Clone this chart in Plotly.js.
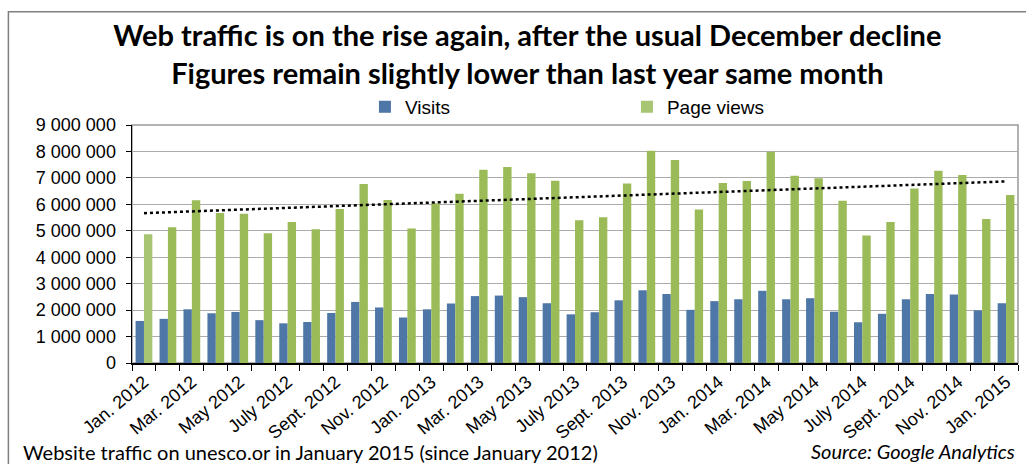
<!DOCTYPE html>
<html>
<head>
<meta charset="utf-8">
<script src="https://cdn.plot.ly/plotly-3.0.1.min.js"></script>
<style>
  html, body { margin: 0; padding: 0; background: #ffffff; }
  #chart { width: 1026px; height: 464px; }
</style>
</head>
<body>
<div id="chart"></div>
<script>
// ---- Data ----
const categories = [
  'Jan. 2012','Feb. 2012','Mar. 2012','Apr. 2012','May 2012','June 2012',
  'July 2012','Aug. 2012','Sept. 2012','Oct. 2012','Nov. 2012','Dec. 2012',
  'Jan. 2013','Feb. 2013','Mar. 2013','Apr. 2013','May 2013','June 2013',
  'July 2013','Aug. 2013','Sept. 2013','Oct. 2013','Nov. 2013','Dec. 2013',
  'Jan. 2014','Feb. 2014','Mar. 2014','Apr. 2014','May 2014','June 2014',
  'July 2014','Aug. 2014','Sept. 2014','Oct. 2014','Nov. 2014','Dec. 2014',
  'Jan. 2015'
];

const visits = [
  1590000, 1670000, 2030000, 1880000, 1930000, 1620000,
  1500000, 1550000, 1890000, 2310000, 2100000, 1720000,
  2030000, 2250000, 2530000, 2550000, 2490000, 2260000,
  1840000, 1920000, 2370000, 2750000, 2610000, 2010000,
  2340000, 2410000, 2730000, 2410000, 2450000, 1940000,
  1540000, 1860000, 2410000, 2610000, 2590000, 1990000,
  2260000
];

const pageViews = [
  4870000, 5130000, 6150000, 5670000, 5640000, 4910000,
  5330000, 5060000, 5820000, 6770000, 6160000, 5090000,
  6040000, 6400000, 7310000, 7410000, 7180000, 6890000,
  5400000, 5510000, 6790000, 8030000, 7680000, 5800000,
  6810000, 6880000, 7990000, 7080000, 6990000, 6140000,
  4820000, 5330000, 6600000, 7270000, 7110000, 5450000,
  6350000
];

// Every other month is labelled on the axis
const tickLabels = categories.map((c, i) => (i % 2 === 0 ? c : ''));

const yTickValues = [0, 1000000, 2000000, 3000000, 4000000, 5000000, 6000000, 7000000, 8000000, 9000000];

// Linear trendline of page views (least squares, as the spreadsheet draws it)
const n = pageViews.length;
const xs = pageViews.map((_, i) => i + 1);
const mx = xs.reduce((a, b) => a + b, 0) / n;
const my = pageViews.reduce((a, b) => a + b, 0) / n;
let sxy = 0, sxx = 0;
for (let i = 0; i < n; i++) { sxy += (xs[i] - mx) * (pageViews[i] - my); sxx += (xs[i] - mx) * (xs[i] - mx); }
const slope = sxy / sxx;
const intercept = my - slope * mx;
const trendX = [categories[0], categories[n - 1]];
const trendY = [intercept + slope * 1, intercept + slope * n];

// ---- Styles ----
const BLUE = '#4E76A7';
const GREEN = '#9BBB59';
const greenColors = pageViews.map((_, i) => (i === 0 ? '#A8C574' : GREEN));
const AX_FONT = 'Liberation Sans, Arial, sans-serif';
const TXT_FONT = 'Lato, Open Sans, sans-serif';

const traces = [
  {
    type: 'bar', name: 'Visits', x: categories, y: visits,
    marker: { color: BLUE }, hoverinfo: 'x+y'
  },
  {
    type: 'bar', name: 'Page views', x: categories, y: pageViews,
    marker: { color: greenColors }, hoverinfo: 'x+y'
  },
  {
    type: 'scatter', mode: 'lines', name: 'Linear (Page views)', x: trendX, y: trendY,
    line: { color: '#000000', width: 2.5, dash: 'dot' }, showlegend: false, hoverinfo: 'skip'
  }
];

const layout = {
  width: 1026, height: 464,
  margin: { l: 132, r: 8, t: 125, b: 101, pad: 0 },
  paper_bgcolor: '#ffffff', plot_bgcolor: '#ffffff',
  separators: '. ',
  barmode: 'group', bargap: 0.3, bargroupgap: 0,
  title: {
    text: 'Web traffic is on the rise again, after the usual December decline<br>Figures remain slightly lower than last year same month',
    font: { family: TXT_FONT, size: 29, weight: 700, color: '#000000' },
    x: 0.514, xanchor: 'center', xref: 'container',
    y: 0.90, yanchor: 'top', yref: 'container'
  },
  showlegend: true,
  legend: {
    orientation: 'h', x: 0.2629, xanchor: 'left', y: 1.076, yanchor: 'middle',
    font: { family: AX_FONT, size: 19, color: '#000000' },
    entrywidth: 217, entrywidthmode: 'pixels', itemwidth: 30,
    bgcolor: 'rgba(0,0,0,0)', traceorder: 'normal'
  },
  xaxis: {
    type: 'category',
    tickmode: 'array', tickvals: categories, ticktext: tickLabels,
    tickson: 'boundaries', ticks: 'outside', ticklen: 6, tickcolor: '#000000', tickwidth: 1,
    tickangle: -40,
    tickfont: { family: AX_FONT, size: 18, color: '#000000' },
    showline: true, linecolor: '#000000', linewidth: 1.5,
    showgrid: false, zeroline: false, fixedrange: true
  },
  yaxis: {
    range: [0, 9000000], tickmode: 'array', tickvals: yTickValues, tickformat: ',d',
    ticks: 'outside', ticklen: 5, tickcolor: '#000000',
    ticklabelstandoff: 6,
    tickfont: { family: AX_FONT, size: 18, color: '#000000' },
    showline: true, linecolor: '#000000', linewidth: 1.5,
    showgrid: true, gridcolor: '#ababab', gridwidth: 1.2,
    zeroline: false, fixedrange: true
  },
  shapes: [
    // plot-area border (gray, top and right)
    { type: 'rect', xref: 'paper', yref: 'paper', x0: 0, x1: 1, y0: 0, y1: 1,
      line: { color: '#999999', width: 1.5 }, fillcolor: 'rgba(0,0,0,0)', layer: 'below' },
    // outer chart frame
    { type: 'rect', xref: 'paper', yref: 'paper', x0: -0.1395, x1: 1.03, y0: -0.6, y1: 1.4755,
      line: { color: '#7f7f7f', width: 1.5 }, fillcolor: 'rgba(0,0,0,0)', layer: 'below' }
  ],
  annotations: [
    { text: 'Website traffic on unesco.or in January 2015 (since January 2012)',
      xref: 'paper', yref: 'paper', x: -0.1255, xanchor: 'left', y: -0.372, yanchor: 'middle',
      showarrow: false, font: { family: TXT_FONT, size: 20, color: '#000000' } },
    { text: '<i>Source: Google Analytics</i>',
      xref: 'paper', yref: 'paper', x: 0.999, xanchor: 'right', y: -0.368, yanchor: 'middle',
      showarrow: false, font: { family: TXT_FONT, size: 20, color: '#000000' } }
  ]
};

Plotly.newPlot('chart', traces, layout, { displayModeBar: false, staticPlot: true });
</script>
</body>
</html>
